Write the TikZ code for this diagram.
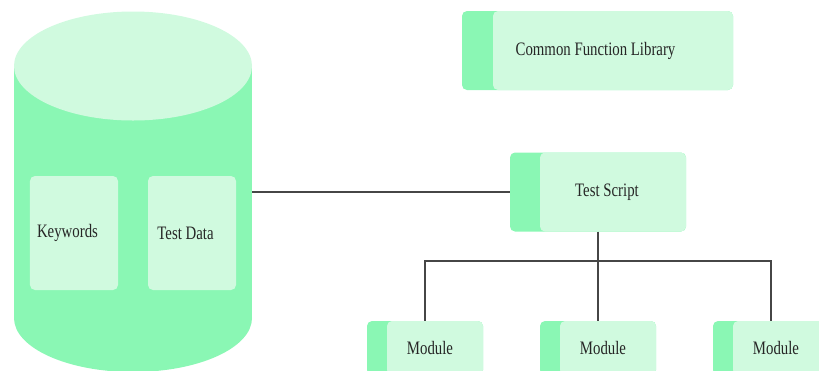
\documentclass[tikz,border=0pt]{standalone}
\usepackage{fontspec}
\setmainfont{Liberation Serif}
\usepackage{tikz}
\usetikzlibrary{calc,positioning}
\definecolor{mintdark}{RGB}{138,247,180}
\definecolor{mintlight}{RGB}{208,250,223}
\definecolor{wiregray}{RGB}{70,70,70}
% narrow lettering, as in the drawing
\newcommand{\narrowtext}[1]{\scalebox{0.78}[1]{#1}}

\begin{document}
\begin{tikzpicture}[x=1bp, y=-1bp, font=\fontsize{19bp}{22bp}\selectfont]
        \tikzstyle{stripbox}=[fill=mintdark, rounded corners=5bp, inner sep=0pt, minimum height=79bp, text=black!85,
          path picture={\fill[mintlight, rounded corners=5bp] ([xshift=#1]path picture bounding box.south west) rectangle (path picture bounding box.north east);}]
        \tikzstyle{panel}=[fill=mintlight, rounded corners=5bp, inner sep=0pt, minimum width=88bp, minimum height=114bp, text=black!85]
        \tikzstyle{wire}=[draw=wiregray, line width=1.2bp]

        % Page frame
        \useasboundingbox (0,0) rectangle (819,370);
        \clip (0,0) rectangle (819,370);

        % Database cylinder
        \node[minimum width=238bp, minimum height=360bp, inner sep=0pt] (db) at (133,192) {};
        \fill[mintdark] (14,66) rectangle (252,318);
        \fill[mintdark] (133,318) ellipse [x radius=119, y radius=54];
        \fill[mintlight] (133,66) ellipse [x radius=119, y radius=54.5];

        % Contents of the database
        \node[panel] (kw) at (74,233) {\narrowtext{Keywords}\kern13bp};
        \node[panel] (td) at (192,233) {\narrowtext{Test Data}\kern13bp};

        % Library and script
        \node[stripbox=31bp, minimum width=271bp] (lib) at (597.5,50.5) {\narrowtext{Common Function Library}\kern4bp};
        \node[stripbox=30bp, minimum width=176bp] (ts) at (598,192) {\kern18bp\narrowtext{Test Script}};

        % Modules
        \node[stripbox=20bp, minimum width=116bp, minimum height=54bp] (m1) at (425,348) {\kern10bp\narrowtext{Module}};
        \node[stripbox=20bp, minimum width=116bp, minimum height=54bp] (m2) at (598,348) {\kern10bp\narrowtext{Module}};
        \node[stripbox=20bp, minimum width=116bp, minimum height=54bp] (m3) at (771,348) {\kern10bp\narrowtext{Module}};

        % Connectors
        \coordinate (bus) at (598,261);
        \draw[wire] (db.east) -- (ts.west);
        \draw[wire] (ts.south) -- (m2.north);
        \draw[wire] (m1.north) |- (bus) -| (m3.north);
    \end{tikzpicture}
\end{document}
